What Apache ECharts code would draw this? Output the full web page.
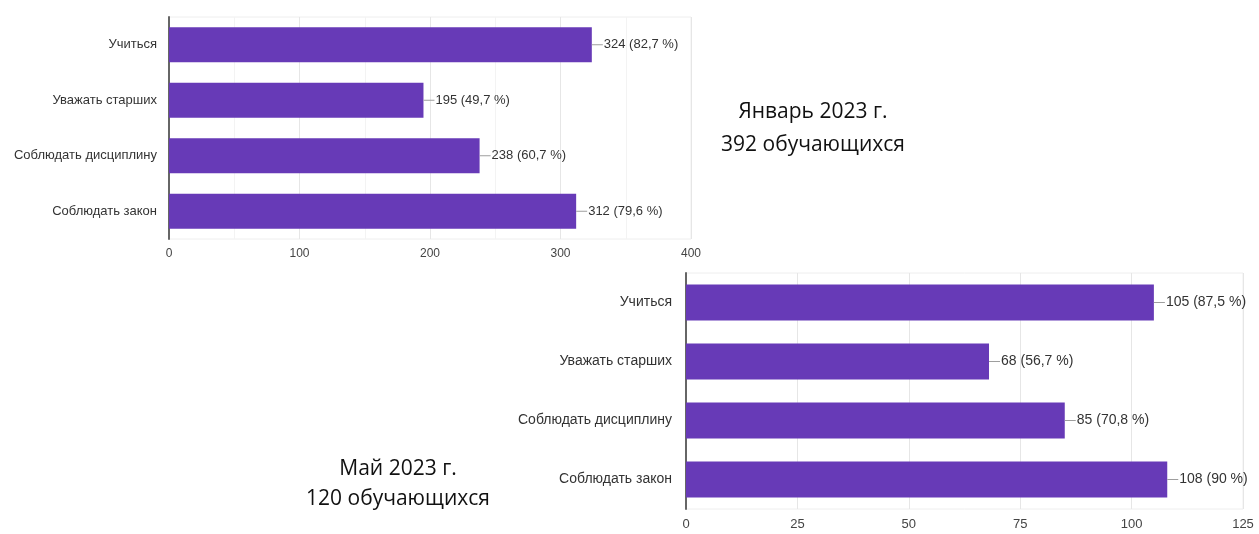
<!DOCTYPE html>
<html>
<head>
<meta charset="utf-8">
<script src="https://cdn.jsdelivr.net/npm/echarts@6/dist/echarts.min.js"></script>
<style>
  html, body { margin: 0; padding: 0; background: #fff; }
  #chart { width: 1259px; height: 534px; }
</style>
</head>
<body>
<div id="chart"></div>
<script>
// categories, top to bottom
const categories = ['Учиться', 'Уважать старших', 'Соблюдать дисциплину', 'Соблюдать закон'];

// январь 2023, 392 обучающихся
const janValues = [324, 195, 238, 312];
const janPct = ['82,7 %', '49,7 %', '60,7 %', '79,6 %'];

// май 2023, 120 обучающихся
const mayValues = [105, 68, 85, 108];
const mayPct = ['87,5 %', '56,7 %', '70,8 %', '90 %'];

const barColor = '#673ab7';
const font = '"Liberation Sans", Arial, sans-serif';

function labelFor(pct, size) {
      return {
            show: true,
            position: 'right',
            distance: 0,
            fontFamily: font,
            formatter: function (p) {
                  return '{ln|}{t|' + p.value + ' (' + pct[p.dataIndex] + ')}';
            },
            rich: {
                  ln: { width: 11, height: 1, backgroundColor: '#9e9e9e' },
                  t: { fontSize: size, color: '#333', fontFamily: font, padding: [0, 0, 0, 1] }
            }
      };
}

function catAxis(gridIndex, size, margin) {
      return {
            type: 'category',
            gridIndex: gridIndex,
            inverse: true,
            data: categories,
            axisLine: { show: true, lineStyle: { color: '#666', width: 2 } },
            axisTick: { show: false },
            axisLabel: { color: '#333', fontSize: size, fontFamily: font, margin: margin }
      };
}

const chart = echarts.init(document.getElementById('chart'));

chart.setOption({
      animation: false,
      title: [
            {
                  text: 'Январь 2023 г.\n392 обучающихся',
                  left: 808, top: 91,
                  textAlign: 'center',
                  textStyle: { fontSize: 21, fontWeight: 'normal', color: '#111', lineHeight: 33, fontFamily: '"Open Sans", "Liberation Sans", sans-serif' }
            },
            {
                  text: 'Май 2023 г.\n120 обучающихся',
                  left: 393, top: 449,
                  textAlign: 'center',
                  textStyle: { fontSize: 21, fontWeight: 'normal', color: '#111', lineHeight: 30, fontFamily: '"Open Sans", "Liberation Sans", sans-serif' }
            }
      ],
      grid: [
            { left: 169, right: 568, top: 17, bottom: 295, show: true, borderColor: '#eee', borderWidth: 1 },
            { left: 686, right: 16, top: 273, bottom: 25, show: true, borderColor: '#eee', borderWidth: 1 }
      ],
      xAxis: [
            {
                  type: 'value', gridIndex: 0, min: 0, max: 400, interval: 100,
                  axisLine: { show: false }, axisTick: { show: false },
                  axisLabel: { color: '#444', fontSize: 12, fontFamily: font, margin: 9 },
                  splitLine: { lineStyle: { color: '#e6e6e6' } },
                  minorTick: { show: false, splitNumber: 2 },
                  minorSplitLine: { show: true, lineStyle: { color: '#f3f3f3' } }
            },
            {
                  type: 'value', gridIndex: 1, min: 0, max: 125, interval: 25,
                  axisLine: { show: false }, axisTick: { show: false },
                  axisLabel: { color: '#444', fontSize: 13, fontFamily: font, margin: 9 },
                  splitLine: { lineStyle: { color: '#e6e6e6' } }
            }
      ],
      yAxis: [catAxis(0, 13, 12), catAxis(1, 14, 14)],
      series: [
            {
                  type: 'bar', xAxisIndex: 0, yAxisIndex: 0,
                  data: janValues,
                  barCategoryGap: '37%',
                  itemStyle: { color: barColor },
                  label: labelFor(janPct, 13),
                  z: 3
            },
            {
                  type: 'bar', xAxisIndex: 1, yAxisIndex: 1,
                  data: mayValues,
                  barCategoryGap: '39%',
                  itemStyle: { color: barColor },
                  label: labelFor(mayPct, 14),
                  z: 3
            }
      ]
});
</script>
</body>
</html>
